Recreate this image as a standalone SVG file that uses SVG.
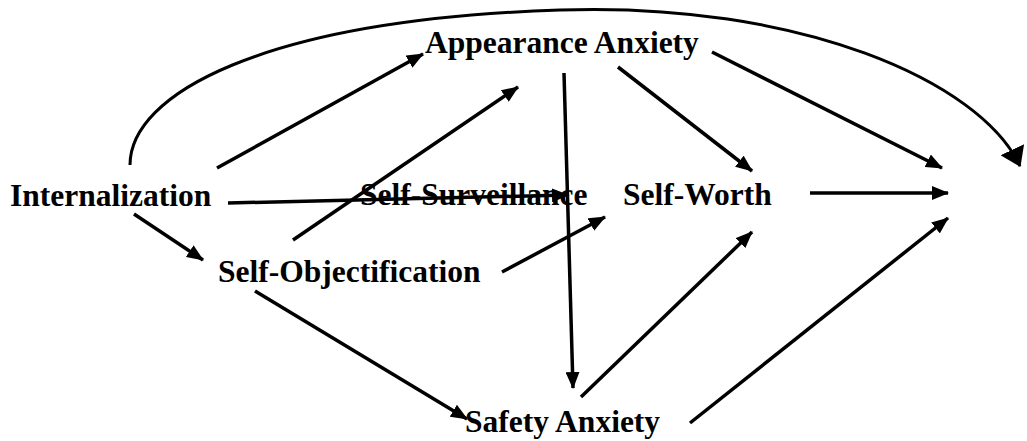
<svg xmlns="http://www.w3.org/2000/svg" width="1027" height="441" viewBox="0 0 1027 441">
  <style>
    .lbl { font-family: "Liberation Serif", "Times New Roman", serif; font-weight: bold; font-size: 31.5px; fill: #000; }
    .edge { fill: none; stroke: #000; stroke-width: 3.5; marker-end: url(#head); }
    .arc { fill: none; stroke: #000; stroke-width: 3; marker-end: url(#head-lg); }
  </style>
  <defs>
    <marker id="head" markerUnits="userSpaceOnUse" markerWidth="17" markerHeight="14" refX="16" refY="7" orient="auto">
      <path d="M0,0 L17,7 L0,14 z" fill="#000"/>
    </marker>
    <marker id="head-lg" markerUnits="userSpaceOnUse" markerWidth="19" markerHeight="26" refX="18" refY="13" orient="auto">
      <path d="M0,0 L19,13 L0,26 z" fill="#000"/>
    </marker>
  </defs>
  <rect width="1027" height="441" fill="#fff"/>

  <!-- variables -->
  <g id="internalization"><text class="lbl" x="10" y="206">Internalization</text></g>
  <g id="appearance-anxiety"><text class="lbl" x="425" y="53">Appearance Anxiety</text></g>
  <g id="self-surveillance"><text class="lbl" x="360" y="205">Self-Surveillance</text></g>
  <g id="self-worth"><text class="lbl" x="623" y="205">Self-Worth</text></g>
  <g id="self-objectification"><text class="lbl" x="218" y="282">Self-Objectification</text></g>
  <g id="safety-anxiety"><text class="lbl" x="465" y="432">Safety Anxiety</text></g>

  <!-- paths between variables -->
  <g id="connectors">
    <path class="arc" d="M130,165 C130,95 260,20 560,10 C800,2 980,81 1020,166"/>
    <path class="edge" d="M217,168 L423,54"/>
    <path class="edge" d="M293,240 L518,87"/>
    <path class="edge" d="M228,203 L568,195"/>
    <path class="edge" d="M134,214 L203,260"/>
    <path class="edge" d="M564,73 L573,388"/>
    <path class="edge" d="M618,67 L752,171"/>
    <path class="edge" d="M712,52 L942,168"/>
    <path class="edge" d="M810,193 L948,193"/>
    <path class="edge" d="M502,272 L605,217"/>
    <path class="edge" d="M255,291 L467,419"/>
    <path class="edge" d="M581,397 L752,232"/>
    <path class="edge" d="M690,423 L948,218"/>
  </g>
</svg>
